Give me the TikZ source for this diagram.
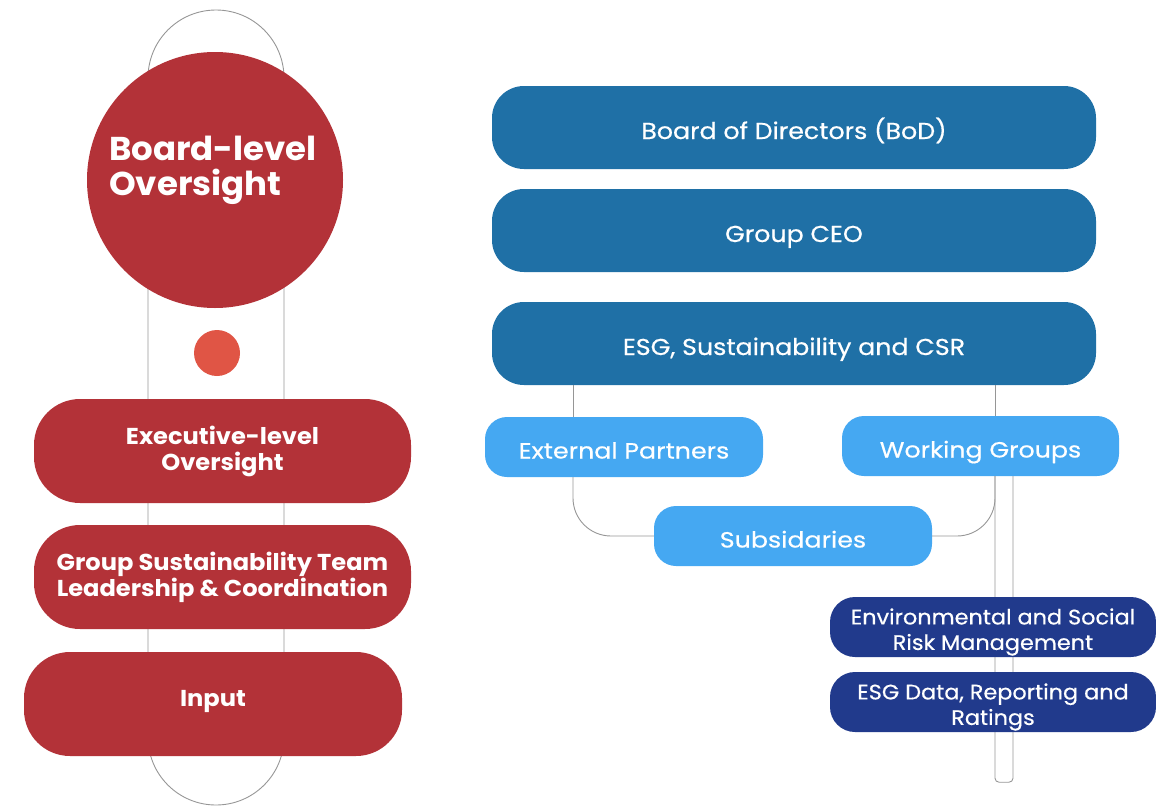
\documentclass[tikz,border=0pt]{standalone}
\usepackage{fontspec}
\setmainfont{Poppins}
\newfontfamily\circfont[FakeStretch=1.03]{Poppins}
\newfontfamily\redfont[FakeStretch=1.05]{Poppins}
\newfontfamily\bigbluefont[FakeStretch=1.1,FakeBold=0.5]{Poppins}
\newfontfamily\lightfont[FakeStretch=1.15,FakeBold=0.5]{Poppins}
\newfontfamily\navyfont[FakeStretch=1.065,FakeBold=0.5]{Poppins}
\usetikzlibrary{calc}
\definecolor{redbox}{RGB}{179,50,56}
\definecolor{reddot}{RGB}{224,85,69}
\definecolor{darkblue}{RGB}{31,112,166}
\definecolor{lightblue}{RGB}{69,168,242}
\definecolor{navy}{RGB}{33,58,140}
\definecolor{linegray}{RGB}{150,150,150}
\begin{document}
\begin{tikzpicture}[x=1pt,y=-1pt,
  conn/.style={draw=linegray,line width=0.9pt},
  redbox/.style={rectangle,rounded corners=46pt,fill=redbox,text=white,font=\redfont\bfseries\fontsize{23}{26}\selectfont,align=center,minimum width=377pt,minimum height=104pt,inner sep=0pt},
  bigblue/.style={rectangle,rounded corners=32pt,fill=darkblue,text=white,font=\bigbluefont\fontsize{23}{26}\selectfont,align=center,minimum width=604pt,minimum height=83pt,inner sep=0pt,text height=23pt,text depth=0pt},
  lightbox/.style={rectangle,rounded corners=22pt,fill=lightblue,text=white,font=\lightfont\fontsize{22}{26}\selectfont,align=center,minimum width=278pt,minimum height=60pt,inner sep=0pt,text height=23pt,text depth=0pt},
  navybox/.style={rectangle,rounded corners=25pt,fill=navy,minimum width=326pt,minimum height=60pt,inner sep=0pt},
  navytext/.style={text=white,font=\navyfont\fontsize{21}{25.5}\selectfont,align=center,inner sep=0pt,yshift=-5pt}]
\useasboundingbox (0,0) rectangle (1156,806);
% capsule outline behind left column
\draw[conn,rounded corners=68pt] (148,10) rectangle (284,805);
% left column
\node[circle,fill=redbox,minimum size=256pt,inner sep=0pt] (circ) at (215,180) {};
\node[text=white,font=\circfont\bfseries\fontsize{33}{35}\selectfont,align=left,inner sep=0pt] (circtext) at (213,170) {Board-level\\Oversight};
\node[circle,fill=reddot,minimum size=46pt,inner sep=0pt] (dot) at (217,353) {};
\node[redbox] (exec) at (222.5,451) {Executive-level\\Oversight};
\node[redbox] (gst) at (222.5,577) {Group Sustainability Team\\Leadership \& Coordination};
\node[redbox,minimum width=378pt,text height=16pt,text depth=11.4pt] (input) at (213,704) {Input};
% right column
\coordinate (c1) at (573,0);
\coordinate (c2) at (995,0);
\coordinate (c3) at (1013,0);
\node[bigblue] (bod) at (794,127.5) {Board of Directors (BoD)};
\node[bigblue] (ceo) at (794,230.5) {Group CEO};
\node[bigblue] (esg) at (794,343.5) {ESG, Sustainability and CSR};
\node[lightbox] (ext) at (624,447) {External Partners};
\node[lightbox,minimum width=277pt] (wg) at (980.5,446) {Working Groups};
\node[lightbox] (sub) at (793,536) {Subsidaries};
% connectors
\draw[conn] (c1 |- esg.south) -- (c1 |- ext.north);
\draw[conn] (c2 |- esg.south) -- (c2 |- wg.north);
\draw[conn,rounded corners=38pt] (c1 |- ext.south) |- (sub.west);
\draw[conn,rounded corners=38pt] (c2 |- wg.south) |- (sub.east);
\draw[conn,rounded corners=4pt] (c2 |- wg.south) -- ($(c2 |- wg.south)+(0,306)$) -| (c3 |- wg.south);
\node[navybox,label={[navytext]center:{Environmental and Social\\Risk Management}}] (env) at (993,627) {};
\node[navybox,label={[navytext]center:{ESG Data, Reporting and\\Ratings}}] (esgd) at (993,702) {};
\end{tikzpicture}
\end{document}
